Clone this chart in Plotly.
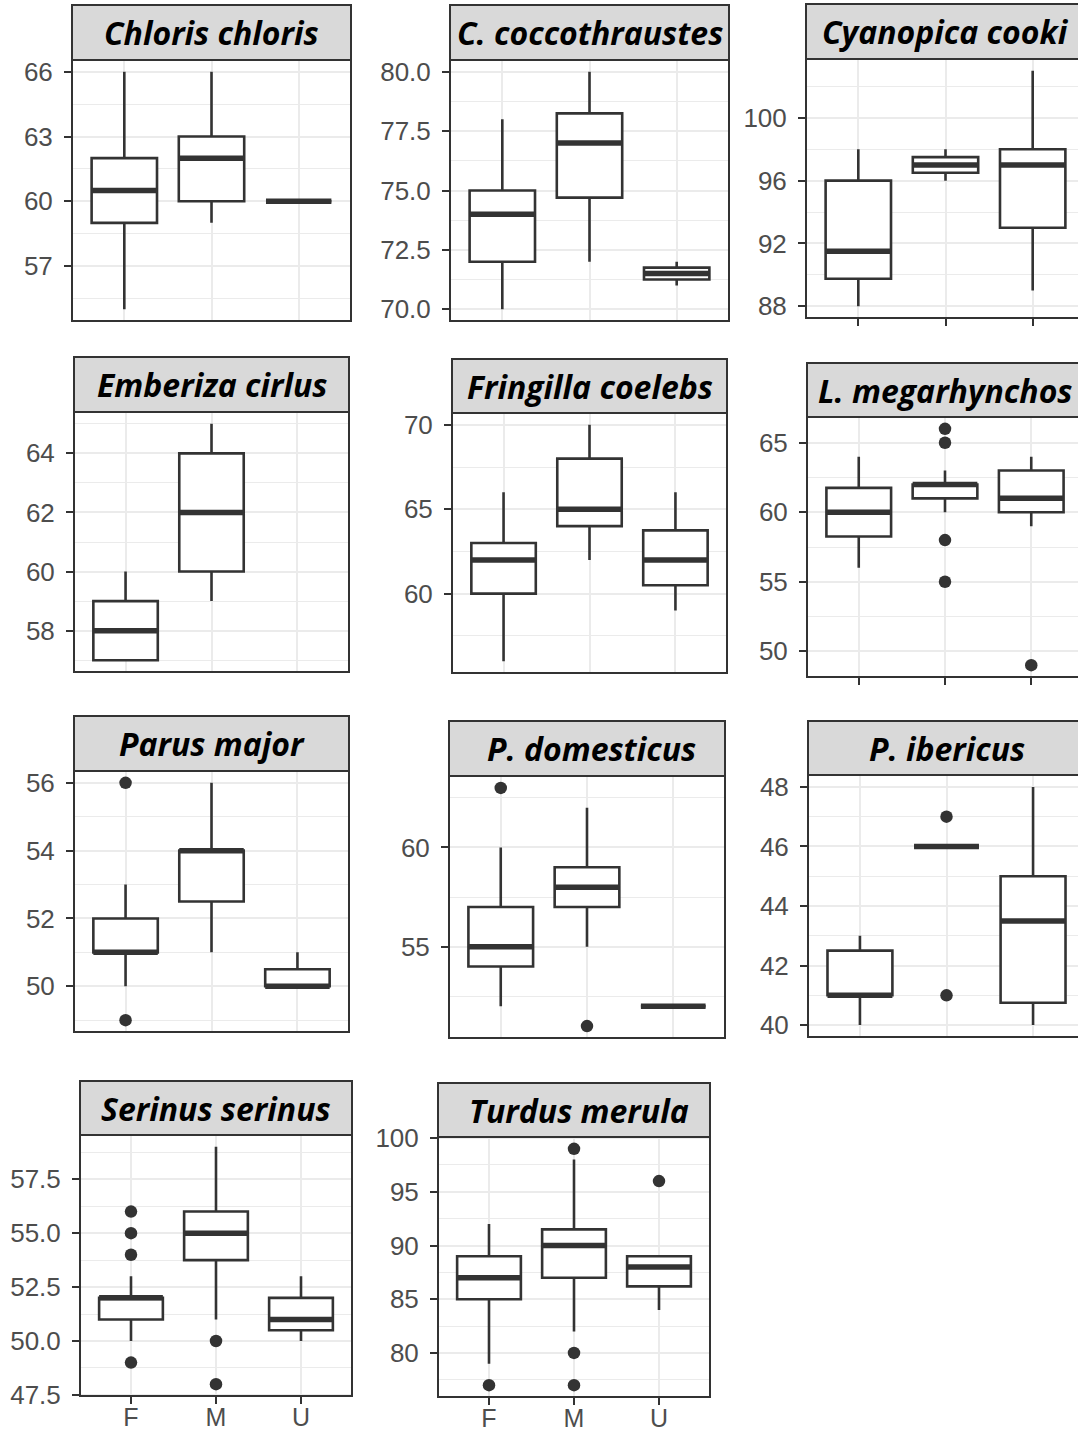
import plotly.graph_objects as go

W, H = 1078, 1433

SPECIES = ["Chloris chloris", "C. coccothraustes", "Cyanopica cooki",
           "Emberiza cirlus", "Fringilla coelebs", "L. megarhynchos",
           "Parus major", "P. domesticus", "P. ibericus",
           "Serinus serinus", "Turdus merula"]
SEXES = ["F", "M", "U"]

LOWER = [[55, 59, 60], [70, 72, 71], [88, 96, 89], [57, 59, None],
         [56, 62, 59], [56, 60, 59], [50, 51, 50], [52, 55, 52],
         [40, 46, 40], [50, 51, 50], [79, 82, 84]]
Q1 = [[59, 60, 60], [72, 74.7, 71.25], [89.75, 96.5, 93], [57, 60, None],
      [60, 64, 60.5], [58.25, 61, 60], [51, 52.5, 50], [54, 57, 52],
      [41, 46, 40.75], [51, 53.75, 50.5], [85, 87, 86.2]]
MEDIAN = [[60.5, 62, 60], [74, 77, 71.5], [91.5, 97, 97], [58, 62, None],
          [62, 65, 62], [60, 62, 61], [51, 54, 50], [55, 58, 52],
          [41, 46, 43.5], [52, 55, 51], [87, 90, 88]]
Q3 = [[62, 63, 60], [75, 78.25, 71.75], [96, 97.5, 98], [59, 64, None],
      [63, 68, 63.75], [61.75, 62, 63], [52, 54, 50.5], [57, 59, 52],
      [42.5, 46, 45], [52, 56, 52], [89, 91.5, 89]]
UPPER = [[66, 66, 60], [78, 80, 72], [98, 98, 103], [60, 65, None],
         [66, 70, 66], [64, 63, 64], [53, 56, 51], [60, 62, 52],
         [43, 46, 48], [53, 59, 53], [92, 98, 89]]
OUTLIERS = [[[], [], []], [[], [], []], [[], [], []], [[], [], []],
            [[], [], []], [[], [66, 65, 58, 55], [49]], [[56, 49], [], []],
            [[63], [51], []], [[], [47, 41], []],
            [[56, 55, 54, 49], [50, 48], []], [[77], [99, 80, 77], [96]]]
TICK_STEP = [3, 2.5, 4, 2, 5, 5, 2, 5, 2, 2.5, 5]
TICK_FORMAT = ["", ".1f", "", "", "", "", "", "", "", ".1f", ""]

# panel geometry in pixels: left, right, strip top, plot top, plot bottom
PANEL_PX = [(72, 351, 5, 60, 321), (450, 729, 5, 60, 321), (806, 1085, 4, 59, 318),
            (74, 349, 357, 412, 672), (452, 727, 359, 413, 673), (807, 1083, 363, 417, 677),
            (74, 349, 716, 771, 1032), (449, 725, 721, 776, 1038), (808, 1085, 721, 775, 1037),
            (80, 352, 1081, 1135, 1396), (438, 710, 1083, 1137, 1397)]
TITLE_SHIFT = [0, 0, 0, 0, 0, 0, 0, 4, 0, 0, 5]
SHOW_XTICKS = [False, False, True, False, False, True, False, False, False, True, True]
SHOW_XLABELS = [False] * 9 + [True, True]

DARK = "#333333"
GRID = "#EBEBEB"
TXT = "#4D4D4D"
TICKFONT = dict(family="Liberation Sans", size=26, color=TXT)
XTICKFONT = dict(family="Liberation Sans", size=25, color=TXT)

fig = go.Figure()
shapes = []
annotations = []
layout = {}

for i, name in enumerate(SPECIES):
    L, R, ST, PT, PB = PANEL_PX[i]
    n = i + 1
    xr, yr = f"x{n}", f"y{n}"
    idx = [k for k in range(3) if MEDIAN[i][k] is not None]
    fig.add_trace(go.Box(
        x=[k + 1 for k in idx],
        q1=[Q1[i][k] for k in idx],
        median=[MEDIAN[i][k] for k in idx],
        q3=[Q3[i][k] for k in idx],
        lowerfence=[LOWER[i][k] for k in idx],
        upperfence=[UPPER[i][k] for k in idx],
        width=0.75, whiskerwidth=0, fillcolor="white",
        line=dict(color=DARK, width=2.6), boxpoints=False,
        xaxis=xr, yaxis=yr, hoverinfo="skip"))
    # thick median line (ggplot style)
    mx, my = [], []
    for k in idx:
        mx += [k + 1 - 0.375, k + 1 + 0.375, None]
        my += [MEDIAN[i][k], MEDIAN[i][k], None]
    fig.add_trace(go.Scatter(x=mx, y=my, mode="lines",
                             line=dict(color=DARK, width=5.5),
                             xaxis=xr, yaxis=yr, hoverinfo="skip"))
    ox, oy = [], []
    for k in range(3):
        for v in OUTLIERS[i][k]:
            ox.append(k + 1)
            oy.append(v)
    if ox:
        fig.add_trace(go.Scatter(x=ox, y=oy, mode="markers",
                                 marker=dict(color=DARK, size=12.5),
                                 xaxis=xr, yaxis=yr, hoverinfo="skip"))
    vals = [v for v in LOWER[i] + UPPER[i] if v is not None]
    for o in OUTLIERS[i]:
        vals += o
    lo, hi = min(vals), max(vals)
    pad = (hi - lo) * 0.05
    # x range (clip if panel extends beyond the image)
    xhi = 3.6
    Rv = min(R, W)
    if R > W:
        xhi = 0.4 + 3.2 * (W - L) / (R - L)
    step = TICK_STEP[i]
    suffix = "" if n == 1 else str(n)
    layout["xaxis" + suffix] = dict(
        domain=[L / W, Rv / W], anchor=yr, range=[0.4, xhi], automargin=False,
        tickmode="array", tickvals=[1, 2, 3],
        ticktext=SEXES if SHOW_XLABELS[i] else ["", "", ""],
        showgrid=True, gridcolor=GRID, gridwidth=2, zeroline=False,
        ticks="outside" if SHOW_XTICKS[i] else "", ticklen=7, tickwidth=2,
        tickcolor=DARK, showline=False, tickfont=XTICKFONT,
        ticklabelstandoff=-8)
    layout["yaxis" + suffix] = dict(
        domain=[1 - PB / H, 1 - PT / H], anchor=xr, range=[lo - pad, hi + pad],
        automargin=False,
        tick0=0, dtick=step, tickformat=TICK_FORMAT[i],
        showgrid=True, gridcolor=GRID, gridwidth=2, zeroline=False,
        minor=dict(tick0=0, dtick=step / 2, showgrid=True, gridcolor=GRID,
                   gridwidth=1.2),
        ticks="outside", ticklen=7, tickwidth=2, tickcolor=DARK,
        ticklabelstandoff=6, showline=False, tickfont=TICKFONT)
    # panel border
    shapes.append(dict(type="rect", xref="paper", yref="paper",
                       x0=L / W, x1=R / W, y0=1 - PB / H, y1=1 - PT / H,
                       line=dict(color=DARK, width=2), fillcolor="rgba(0,0,0,0)",
                       layer="above"))
    # strip
    shapes.append(dict(type="rect", xref="paper", yref="paper",
                       x0=L / W, x1=R / W, y0=1 - PT / H, y1=1 - ST / H,
                       line=dict(color=DARK, width=2), fillcolor="#D9D9D9",
                       layer="above"))
    annotations.append(dict(text=f"<b><i>{name}</i></b>", xref="paper", yref="paper",
                            x=((L + R) / 2 + TITLE_SHIFT[i]) / W,
                            y=1 - (ST + PT) / 2 / H,
                            xanchor="center", yanchor="middle", showarrow=False,
                            font=dict(family="Open Sans", size=32, color="black")))

fig.update_layout(width=W, height=H, margin=dict(l=0, r=0, t=0, b=0, autoexpand=False),
                  paper_bgcolor="white", plot_bgcolor="white",
                  showlegend=False, shapes=shapes, annotations=annotations,
                  **layout)
fig.write_html("out.html")
